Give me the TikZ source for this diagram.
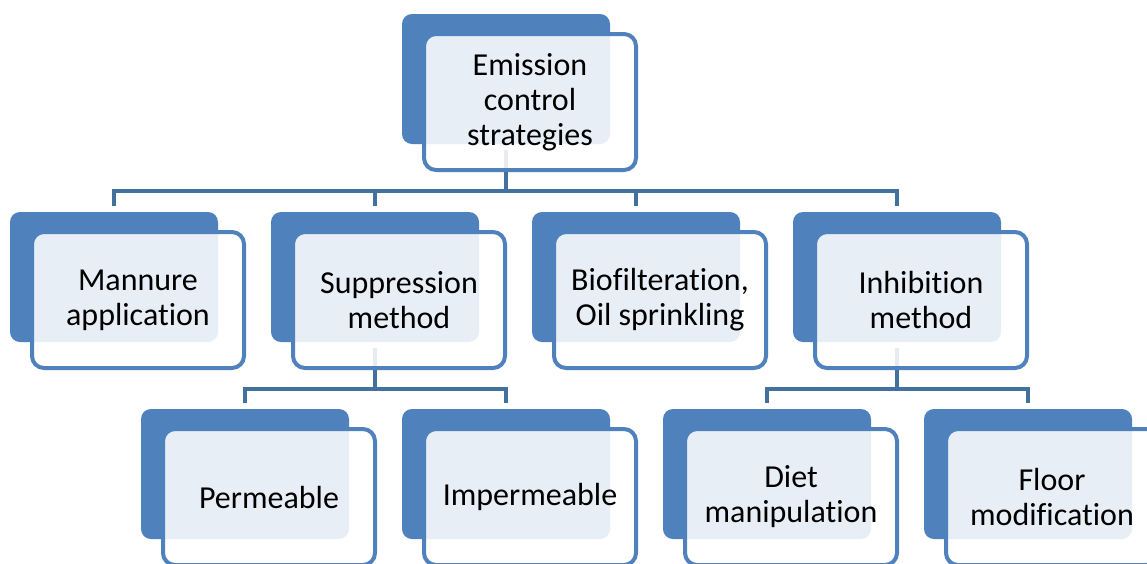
\documentclass[tikz,border=0pt]{standalone}
\usepackage{fontspec}
\setmainfont{Carlito}[Ligatures=NoCommon]
\definecolor{bblue}{HTML}{4F81BD}
\definecolor{cblue}{HTML}{41719C}
\begin{document}
\begin{tikzpicture}[x=1pt,y=-1pt,
  back/.style={fill=bblue, rounded corners=10pt, minimum width=208pt, minimum height=130pt,
    anchor=north west, inner sep=0pt, outer sep=0pt},
  front/.style={draw=bblue, line width=4pt, fill=white, fill opacity=0.87, text opacity=1,
    rounded corners=12pt, minimum width=212pt, minimum height=136pt, anchor=north west,
    align=center, font=\fontsize{32}{35}\selectfont, inner sep=0pt, outer sep=0pt},
  conn/.style={draw=cblue, line width=4.5pt}]
\clip (0,0) rectangle (1147,563);
% back boxes
\node[back] (Tb) at (402,14) {};
\node[back] (Mb) at (10,212) {};
\node[back] (Sb) at (271,212) {};
\node[back] (Bb) at (532,212) {};
\node[back] (Ib) at (793,212) {};
\node[back] (Pb) at (141,409) {};
\node[back] (Qb) at (402,409) {};
\node[back] (Db) at (663,409) {};
\node[back] (Fb) at (924,409) {};
% connectors
\foreach \c in {Mb,Sb,Bb,Ib}
  \draw[conn] ([yshift=-6pt]Tb.south) -- ++(0,-41pt) -| ([yshift=6pt]\c.north);
\foreach \c in {Pb,Qb}
  \draw[conn] ([yshift=-6pt]Sb.south) -- ++(0,-41pt) -| ([yshift=6pt]\c.north);
\foreach \c in {Db,Fb}
  \draw[conn] ([yshift=-6pt]Ib.south) -- ++(0,-41pt) -| ([yshift=6pt]\c.north);
% front boxes
\node[front] (T) at ([shift={(22pt,-20pt)}]Tb.north west) {Emission\\control\\strategies};
\node[front] (M) at ([shift={(22pt,-20pt)}]Mb.north west) {Mannure\\application};
\node[front] (S) at ([shift={(22pt,-20pt)}]Sb.north west) {Suppression\\method};
\node[front] (B) at ([shift={(22pt,-20pt)}]Bb.north west) {Biofilteration,\\Oil sprinkling};
\node[front] (I) at ([shift={(22pt,-20pt)}]Ib.north west) {Inhibition\\method};
\node[front] (P) at ([shift={(22pt,-20pt)}]Pb.north west) {Permeable};
\node[front] (Q) at ([shift={(22pt,-20pt)}]Qb.north west) {Impermeable};
\node[front] (D) at ([shift={(22pt,-20pt)}]Db.north west) {Diet\\manipulation};
\node[front] (F) at ([shift={(22pt,-20pt)}]Fb.north west) {Floor\\modification};
\end{tikzpicture}
\end{document}
